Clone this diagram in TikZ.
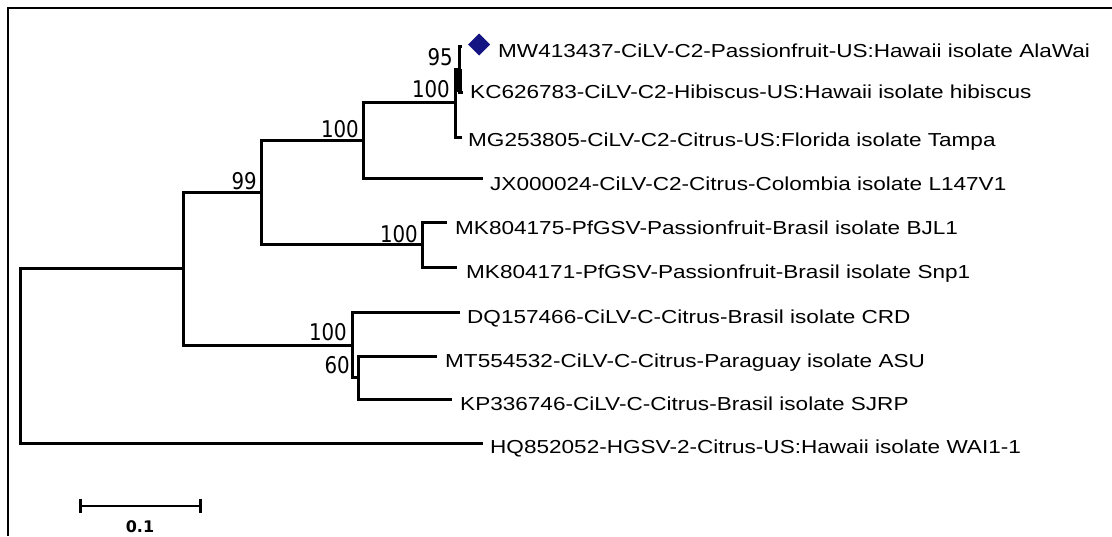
\documentclass[tikz,border=0pt]{standalone}
\usepackage{fontspec}
\newfontfamily\labfont[FakeStretch=1.2]{Liberation Sans}
\newfontfamily\numfont[FakeStretch=0.86]{DejaVu Sans}
\newfontfamily\barfont{DejaVu Sans}
\definecolor{markblue}{RGB}{20,20,130}
\begin{document}
\begin{tikzpicture}[x=1pt,y=-1pt,
  br/.style={line width=3pt},
  leaf/.style={anchor=base west, inner sep=0pt, font=\labfont\fontsize{18.8}{20}\selectfont},
  bs/.style={anchor=base east, inner sep=0pt, font=\numfont\fontsize{23}{24}\selectfont},
  framel/.style={line width=2.3pt}]
\useasboundingbox (0,0) rectangle (1112,536);
% frame
\draw[framel] (8,536) -- (8,8) -- (1112,8);
% internal nodes
\coordinate (R) at (20,355.5);
\coordinate (N1) at (183,268.5);
\coordinate (N99) at (261,192.5);
\coordinate (NA) at (363,140);
\coordinate (NB) at (455,102.5);
\coordinate (N95) at (459,69);
\coordinate (NP) at (422,244.5);
\coordinate (NC) at (352,345);
\coordinate (NM) at (358,377.5);
% leaf ends
\coordinate (eMW) at (462,46);
\coordinate (eKC) at (463,92);
\coordinate (eMG) at (462,137);
\coordinate (eJX) at (483,178);
\coordinate (eMK5) at (447,222);
\coordinate (eMK1) at (457,267);
\coordinate (eDQ) at (460,312);
\coordinate (eMT) at (437,356);
\coordinate (eKP) at (452,399);
\coordinate (eHQ) at (483,443);
% branches
\draw[br] (R) |- (N1);
\draw[br] (R) |- (eHQ);
\draw[br] (N1) |- (N99);
\draw[br] (N1) |- (NC);
\draw[br] (N99) |- (NA);
\draw[br] (N99) |- (NP);
\draw[br] (NA) |- (NB);
\draw[br] (NA) |- (eJX);
\draw[br] (NB) |- (N95);
\draw[br] (NB) |- (eMG);
\draw[br] (N95) |- (eMW);
\draw[br] (N95) |- (eKC);
\draw[line width=5pt] (N95) -- (459,92);
\draw[br] (NP) |- (eMK5);
\draw[br] (NP) |- (eMK1);
\draw[br] (NC) |- (eDQ);
\draw[br] (NC) |- (NM);
\draw[br] (NM) |- (eMT);
\draw[br] (NM) |- (eKP);
% marker
\fill[markblue] (479,33.5) -- (490,44.5) -- (479,55.5) -- (468,44.5) -- cycle;
% leaf labels
\node[leaf] (lMW) at (498,57) {MW413437-CiLV-C2-Passionfruit-US:Hawaii isolate AlaWai};
\node[leaf] (lKC) at (470,98) {KC626783-CiLV-C2-Hibiscus-US:Hawaii isolate hibiscus};
\node[leaf] (lMG) at (468,146) {MG253805-CiLV-C2-Citrus-US:Florida isolate Tampa};
\node[leaf] (lJX) at (490,190) {JX000024-CiLV-C2-Citrus-Colombia isolate L147V1};
\node[leaf] (lMK5) at (455,234) {MK804175-PfGSV-Passionfruit-Brasil isolate BJL1};
\node[leaf] (lMK1) at (466,278) {MK804171-PfGSV-Passionfruit-Brasil isolate Snp1};
\node[leaf] (lDQ) at (467,323) {DQ157466-CiLV-C-Citrus-Brasil isolate CRD};
\node[leaf] (lMT) at (445,367) {MT554532-CiLV-C-Citrus-Paraguay isolate ASU};
\node[leaf] (lKP) at (460,410) {KP336746-CiLV-C-Citrus-Brasil isolate SJRP};
\node[leaf] (lHQ) at (490,453) {HQ852052-HGSV-2-Citrus-US:Hawaii isolate WAI1-1};
% bootstrap values
\node[bs] (b95) at (453,65) {95};
\node[bs] (bB) at (450,97) {100};
\node[bs] (bA) at (359,137) {100};
\node[bs] (b99) at (257,189) {99};
\node[bs] (bP) at (418,242) {100};
\node[bs] (bC) at (347,340) {100};
\node[bs] (b60) at (350,373) {60};
% scale bar
\coordinate (s1) at (80,506);
\coordinate (s2) at (200,506);
\draw[line width=2.3pt] (s1) -- (s2);
\draw[line width=3pt] (80,499) -- (80,513);
\draw[line width=3pt] (200,499) -- (200,513);
\node[anchor=base, inner sep=0pt, font=\barfont\bfseries\fontsize{16}{18}\selectfont] (sl) at (140,532) {0.1};
\end{tikzpicture}
\end{document}
